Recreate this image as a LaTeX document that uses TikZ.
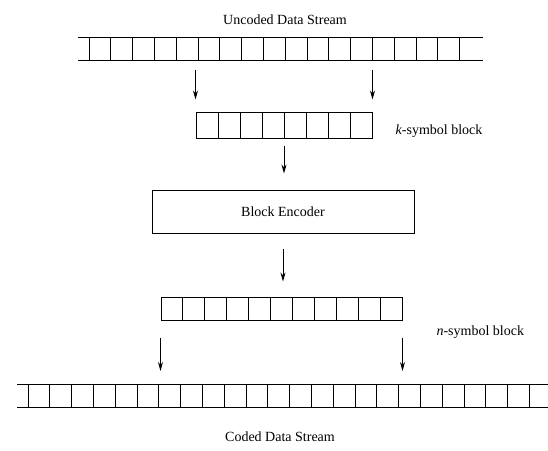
\documentclass[tikz,border=0pt]{standalone}
\usepackage{fontspec}
\setmainfont{Liberation Serif}
\usepackage{tikz}
\usetikzlibrary{arrows.meta, positioning, calc}

\begin{document}
\begin{tikzpicture}[
    x=1pt, y=-1pt,
    font=\fontsize{14}{16}\selectfont,
    rel/.style={line width=1pt},
    blok/.style={draw, line width=1pt, inner sep=0pt},
    turun/.style={-{Stealth[length=9pt, width=5pt]}, line width=0.8pt}
  ]
    \useasboundingbox (0,0) rectangle (548,450);

    % aliran data atas
    \node (judulatas) at (285,20) {Uncoded Data Stream};
    \draw[rel] (78,37) -- (483,37);
    \draw[rel] (78,60) -- (483,60);
    \foreach \i in {0,...,17}
      \draw[rel] (89+21.8*\i,37) -- (89+21.8*\i,60);
    \coordinate (atas) at (0,60);

    % blok k simbol
    \node[blok, minimum width=176pt, minimum height=26pt] (kblok) at (284,125) {};
    \foreach \i in {1,...,7}
      \draw[rel] (196+22*\i,112) -- (196+22*\i,138);
    \node[anchor=west] (klabel) at (392,131) {\textit{k}-symbol block};

    % pengkode
    \node[blok, minimum width=262pt, minimum height=43pt] (enc) at (283,211.5) {Block Encoder};

    % blok n simbol
    \node[blok, minimum width=241pt, minimum height=23pt] (nblok) at (281.5,308.5) {};
    \foreach \i in {1,...,10}
      \draw[rel] (161+21.9*\i,297) -- (161+21.9*\i,320);
    \node[anchor=west] (nlabel) at (433,332) {\textit{n}-symbol block};

    % aliran data bawah
    \draw[rel] (17,384) -- (548,384);
    \draw[rel] (17,407) -- (548,407);
    \foreach \i in {0,...,23}
      \draw[rel] (28+21.8*\i,384) -- (28+21.8*\i,407);
    \coordinate (bawah) at (0,384);
    \node (judulbawah) at (280,437) {Coded Data Stream};

    \draw[turun, shorten <=10pt, shorten >=12pt] (kblok.north west |- atas) -- (kblok.north west);
    \draw[turun, shorten <=10pt, shorten >=12pt] (kblok.north east |- atas) -- (kblok.north east);
    \draw[turun, shorten <=7pt, shorten >=16pt] (kblok.south) -- (enc.north -| kblok.south);
    \draw[turun, shorten <=15pt, shorten >=15pt] (enc.south) -- (enc.south |- nblok.north);
    \draw[turun, shorten <=17pt, shorten >=13pt] (nblok.south west) -- (nblok.south west |- bawah);
    \draw[turun, shorten <=17pt, shorten >=13pt] (nblok.south east) -- (nblok.south east |- bawah);
  \end{tikzpicture}
\end{document}
